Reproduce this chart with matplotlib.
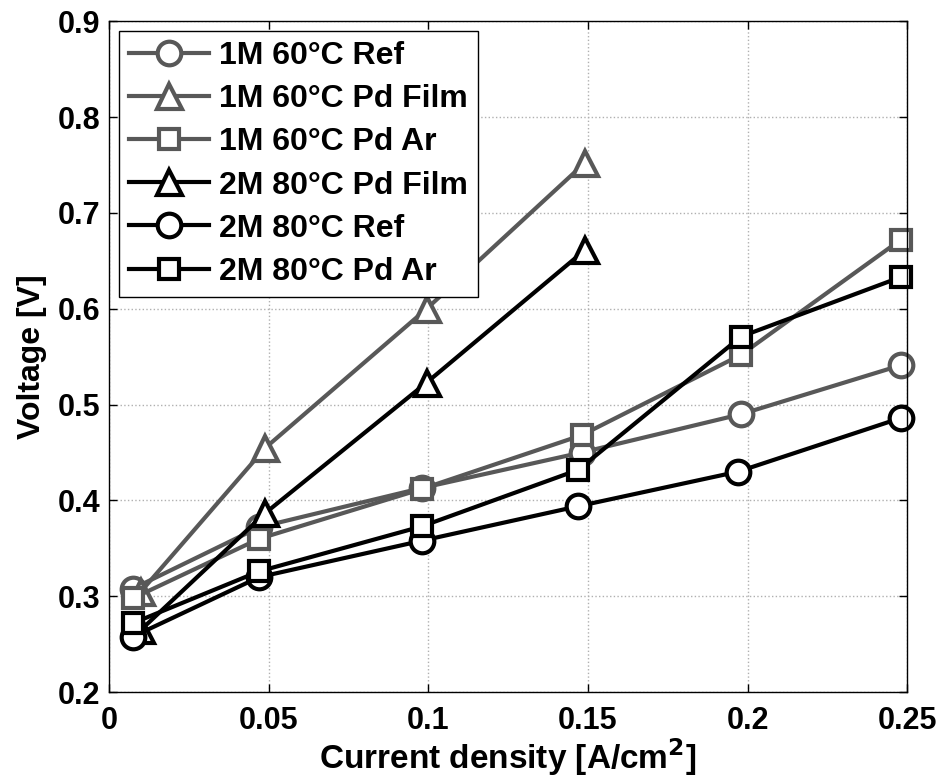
import matplotlib
matplotlib.use("Agg")
import matplotlib.pyplot as plt

plt.rcParams['font.family'] = ['Liberation Sans', 'DejaVu Sans']
plt.rcParams['font.weight'] = 'bold'

GRAY = '#585858'
BLACK = '#000000'

labels = ['1M 60°C Ref', '1M 60°C Pd Film', '1M 60°C Pd Ar',
          '2M 80°C Pd Film', '2M 80°C Ref', '2M 80°C Pd Ar']

x_ref1 = [0.0075, 0.047, 0.098, 0.148, 0.198, 0.248]
y_ref1 = [0.308, 0.372, 0.413, 0.450, 0.490, 0.541]

x_film1 = [0.010, 0.049, 0.0995, 0.149]
y_film1 = [0.305, 0.455, 0.600, 0.752]

x_ar1 = [0.0075, 0.047, 0.098, 0.148, 0.198, 0.248]
y_ar1 = [0.298, 0.360, 0.412, 0.468, 0.552, 0.672]

x_film2 = [0.010, 0.049, 0.0995, 0.149]
y_film2 = [0.265, 0.387, 0.523, 0.661]

x_ref2 = [0.0075, 0.047, 0.098, 0.147, 0.197, 0.248]
y_ref2 = [0.258, 0.320, 0.358, 0.394, 0.430, 0.486]

x_ar2 = [0.0075, 0.047, 0.098, 0.147, 0.198, 0.248]
y_ar2 = [0.272, 0.326, 0.373, 0.432, 0.571, 0.633]

xticks = [0, 0.05, 0.1, 0.15, 0.2, 0.25]
xtick_labels = ['0', '0.05', '0.1', '0.15', '0.2', '0.25']
yticks = [0.2, 0.3, 0.4, 0.5, 0.6, 0.7, 0.8, 0.9]
ytick_labels = ['0.2', '0.3', '0.4', '0.5', '0.6', '0.7', '0.8', '0.9']

fig = plt.figure(figsize=(9.44, 7.83), dpi=100)
ax = fig.add_axes([0.1155, 0.116, 0.8455, 0.857])

series = [
    (x_ref1, y_ref1, 'o', GRAY),
    (x_film1, y_film1, '^', GRAY),
    (x_ar1, y_ar1, 's', GRAY),
    (x_film2, y_film2, '^', BLACK),
    (x_ref2, y_ref2, 'o', BLACK),
    (x_ar2, y_ar2, 's', BLACK),
]
msizes = {'o': 17, '^': 18, 's': 14}
for (xs, ys, m, c), lab in zip(series, labels):
    ax.plot(xs, ys, marker=m, color=c, lw=3, ms=msizes[m], mew=3,
            mfc='white', mec=c, label=lab, clip_on=False)

ax.set_xlim(0, 0.25)
ax.set_ylim(0.2, 0.9)
ax.set_xticks(xticks)
ax.set_xticklabels(xtick_labels)
ax.set_yticks(yticks)
ax.set_yticklabels(ytick_labels)
ax.tick_params(direction='in', top=True, right=True, labelsize=22, length=6, width=1)
ax.tick_params(axis='x', pad=10)
ax.tick_params(axis='y', pad=6)
ax.grid(True, linestyle=':', color='#b0b0b0', linewidth=1)
for s in ax.spines.values():
    s.set_linewidth(1)

ax.set_xlabel('Current density [A/cm$^\\mathbf{2}$]', fontsize=24, fontweight='bold', labelpad=0)
ax.set_ylabel('Voltage [V]', fontsize=23, fontweight='bold', labelpad=8)

leg = ax.legend(loc='upper left', handlelength=2.5, borderaxespad=0.3,
                fancybox=False, edgecolor='black', framealpha=1, labelspacing=0.41,
                handletextpad=0.3, borderpad=0.33,
                prop={'weight': 'bold', 'size': 23})
leg.get_frame().set_linewidth(1)

fig.savefig('out.png', dpi=100)
